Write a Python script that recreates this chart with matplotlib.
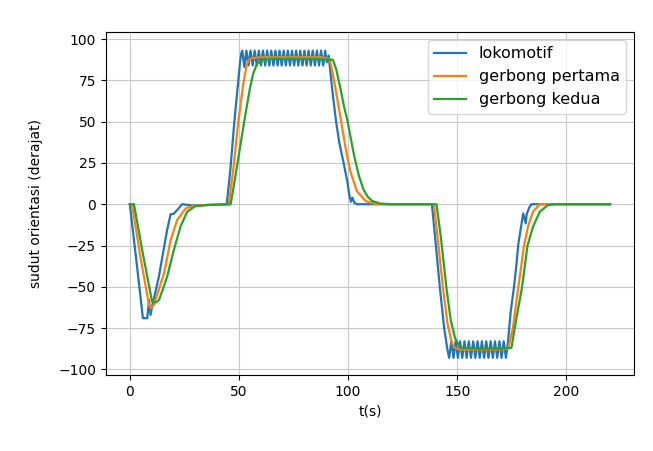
import matplotlib
matplotlib.use("Agg")
import matplotlib.pyplot as plt

# lokomotif (blue), with the plateau ripple
t_lok = [0, 3, 6, 8, 8.8, 9.5, 10.2, 13.3, 14.9, 17.1, 18.7, 19.9, 21.7, 24, 29, 35, 40,
         44.4, 46, 47.9, 49.5, 50.5, 51.0,
         51.5, 52.5, 53.4, 54.4, 55.3, 56.3, 57.2, 58.2, 59.1, 60.1, 61.0, 62.0, 62.9, 63.9,
         64.8, 65.8, 66.7, 67.7, 68.6, 69.6, 70.5, 71.5, 72.4, 73.4, 74.3, 75.3, 76.2, 77.2,
         78.1, 79.1, 80.0, 81.0, 81.9, 82.9, 83.8, 84.8, 85.7, 86.7, 87.6, 88.6, 89.5,
         90.3, 91.1, 92.5, 94.5, 96, 98, 99.8, 100.5, 101.3, 102, 102.8, 104, 110, 120, 130,
         138.4, 140, 142, 144, 145.5,
         146.3, 147.3, 148.3, 149.3, 150.3, 151.3, 152.3, 153.3, 154.3, 155.3, 156.3, 157.3,
         158.3, 159.3, 160.3, 161.3, 162.3, 163.3, 164.3, 165.3, 166.3, 167.3, 168.3, 169.3,
         170.3, 171.3, 172.3,
         173.2, 174.5, 176, 177, 178, 179, 180.2, 181.4, 181.8, 183, 184, 190, 200, 210, 220]
y_lok = [0, -34, -69, -69, -58, -67, -62, -44, -32, -15.6, -6, -6, -3.5, 0, -0.8, -0.5, -0.3,
         0, 20, 50, 72, 86, 91,
         93, 83, 93, 84, 93, 84, 93, 84, 93, 84, 93, 84, 93, 84,
         93, 84, 93, 84, 93, 84, 93, 84, 93, 84, 93, 84, 93, 84,
         93, 84, 93, 84, 93, 84, 93, 84, 93, 84, 93, 84, 93,
         86, 90, 72, 50, 37, 24.7, 12.6, 6, 1.5, 4, 1, 0, 0, 0, 0,
         0, -22, -50, -75, -88,
         -93, -83, -93, -83, -93, -83, -93, -83, -93, -83, -93, -83,
         -93, -83, -93, -83, -93, -83, -93, -83, -93, -83, -93, -83,
         -93, -83, -93,
         -84, -65, -50, -38, -24, -15.6, -5.6, -11.6, -6, -2, 0, 0, 0, 0, 0]

# gerbong pertama (orange)
t_g1 = [0, 1, 5, 8.8, 9.6, 11, 15.7, 18.7, 21.7, 25.6, 29.3, 35, 40,
        45.3, 47.5, 49.7, 52, 53.5, 54.5, 56, 60, 70, 80, 88, 91.5,
        92.5, 94.5, 96.8, 99, 101, 104, 108, 112, 120, 130,
        139.3, 141, 143.4, 145.5, 147.5, 149, 151, 160, 170, 173.3,
        175.5, 178, 180.6, 182.4, 184.7, 187.8, 190, 200, 220]
y_g1 = [0, 0, -33, -61, -63, -61, -41.7, -21.7, -9.5, -2.5, -1, -0.5, -0.3,
        0, 22, 50, 73, 84, 87.5, 88.5, 89, 89, 89, 89, 88,
        82, 68, 50, 33, 20, 8, 2, 0.3, 0, 0,
        0, -20, -50, -72, -84, -87, -88, -88, -88, -87.5,
        -75, -50, -25, -13.6, -4.5, 0, 0, 0, 0]

# gerbong kedua (green)
t_g2 = [0, 1.9, 6, 10.2, 11.8, 13.4, 17.1, 20.2, 23.2, 26.3, 30.1, 35, 40,
        46.2, 49, 52.4, 55, 56.5, 58.3, 61, 65, 80, 93,
        94.5, 96.5, 98, 99.8, 101.5, 103, 105, 107, 109, 111, 115, 120, 130,
        140.5, 142.5, 145, 147, 149, 150.5, 152, 160, 170, 174.8,
        177, 179.7, 182.2, 184.7, 187.8, 191.6, 195, 200, 220]
y_g2 = [0, 0, -30, -59, -59.5, -58, -44, -27.6, -13.6, -4.5, -1.1, -0.5, -0.3,
        0, 22, 50, 70, 79, 85, 87.5, 88, 88, 87.5,
        82, 70, 60, 50, 38, 28, 17, 9, 4.5, 2, 0.3, 0, 0,
        0, -20, -50, -70, -81, -85, -87, -87.5, -87.5, -87,
        -70, -50, -25, -13.6, -4.5, -0.5, 0, 0, 0]

fig = plt.figure(figsize=(6.53, 4.51), dpi=100)
ax = fig.add_axes([0.162, 0.1685, 0.809, 0.761])

ax.plot(t_lok, y_lok, label="lokomotif", lw=1.6)
ax.plot(t_g1, y_g1, label="gerbong pertama", lw=1.6)
ax.plot(t_g2, y_g2, label="gerbong kedua", lw=1.6)

ax.set_xlim(-11, 231)
ax.set_ylim(-103.4, 104.4)
ax.set_yticks([-100, -75, -50, -25, 0, 25, 50, 75, 100])
ax.tick_params(labelsize=10)
ax.grid(True, color="#c8c8c8")
ax.set_xlabel("t(s)", fontsize=10)
ax.set_ylabel("sudut orientasi (derajat)", fontsize=10, labelpad=11)
ax.legend(loc="upper right", fontsize=11.5)

fig.savefig("out.png", dpi=100)
